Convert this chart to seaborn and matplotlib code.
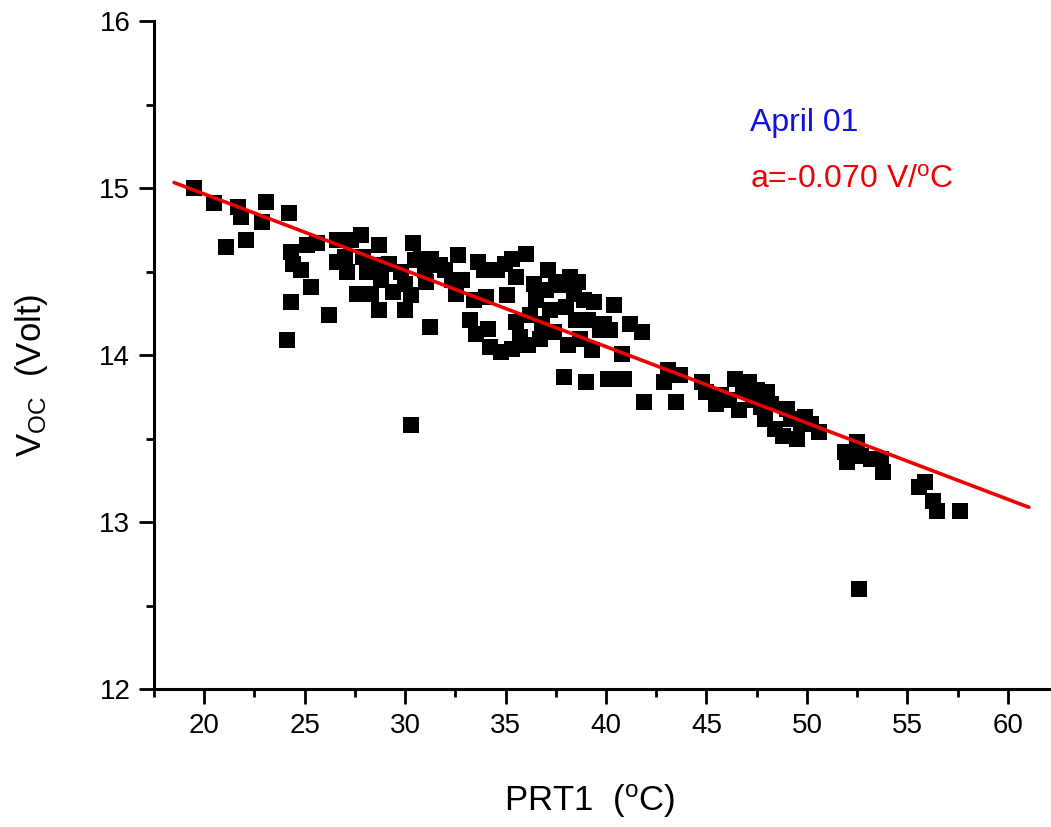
import matplotlib
matplotlib.use("Agg")
import matplotlib.pyplot as plt
from matplotlib.ticker import MultipleLocator
import seaborn as sns
import pandas as pd

# ---- data ----
prt1_c = [19.5, 20.5, 21.1, 21.7, 21.85, 22.1, 22.9, 23.1, 24.2, 24.3, 24.4, 24.3, 24.1,
          24.8, 25.1, 25.3, 25.6, 26.2, 26.6, 26.6, 27.0, 27.3, 27.1, 27.6, 27.8, 27.9,
          28.1, 28.3, 28.6, 28.7, 28.8, 28.7, 29.2, 29.4, 29.8, 30.0, 30.0, 30.3, 30.4,
          30.3, 30.5, 30.8, 31.0, 31.05, 31.25, 31.3, 31.75, 32.0, 32.35, 32.55, 32.65,
          32.85, 33.25, 33.45, 33.55, 33.65, 33.95, 34.05, 34.15, 34.25, 34.55, 34.75,
          34.95, 35.05, 35.3, 35.3, 35.5, 35.5, 35.7, 36.0, 36.1, 36.2, 36.4, 36.5, 36.7,
          36.8, 37.0, 37.1, 37.2, 37.4, 37.5, 37.8, 37.9, 38.0, 38.1, 38.2, 38.4, 38.5,
          38.6, 38.7, 38.9, 39.0, 39.1, 39.3, 39.4, 39.7, 39.9, 40.1, 40.2, 40.4, 40.6,
          40.8, 40.9, 41.2, 41.8, 41.9, 42.9, 43.1, 43.5, 43.7, 44.8, 45.0, 45.5, 45.7,
          46.1, 46.4, 46.6, 46.8, 47.1, 47.3, 47.5, 47.7, 47.9, 48.0, 48.2, 48.4, 48.8,
          49.0, 49.2, 49.5, 49.7, 49.9, 50.2, 50.6, 51.9, 52.0, 52.5, 52.6, 52.7, 53.2,
          53.7, 53.8, 55.6, 55.9, 56.3, 56.5, 57.6]
voc_volt = [15.00, 14.91, 14.65, 14.89, 14.83, 14.69, 14.80, 14.92, 14.85, 14.62, 14.55,
            14.32, 14.09, 14.51, 14.66, 14.41, 14.67, 14.24, 14.69, 14.56, 14.59, 14.69,
            14.50, 14.37, 14.72, 14.59, 14.50, 14.37, 14.54, 14.66, 14.45, 14.27, 14.55,
            14.38, 14.50, 14.27, 14.43, 14.36, 14.67, 13.58, 14.57, 14.58, 14.51, 14.44,
            14.17, 14.58, 14.54, 14.51, 14.45, 14.37, 14.60, 14.45, 14.21, 14.33, 14.13,
            14.56, 14.51, 14.35, 14.16, 14.05, 14.51, 14.02, 14.55, 14.36, 14.58, 14.04,
            14.47, 14.20, 14.11, 14.61, 14.06, 14.24, 14.43, 14.33, 14.10, 14.19, 14.39,
            14.51, 14.27, 14.14, 14.44, 14.42, 13.87, 14.29, 14.06, 14.47, 14.37, 14.21,
            14.44, 14.10, 14.33, 13.84, 14.21, 14.03, 14.32, 14.15, 14.19, 13.86, 14.15,
            14.30, 13.86, 14.01, 13.86, 14.19, 14.14, 13.72, 13.84, 13.91, 13.72, 13.88,
            13.84, 13.78, 13.71, 13.76, 13.73, 13.86, 13.67, 13.79, 13.84, 13.73, 13.79,
            13.69, 13.62, 13.78, 13.71, 13.56, 13.52, 13.68, 13.62, 13.50, 13.59, 13.63,
            13.59, 13.54, 13.42, 13.36, 13.48, 12.60, 13.40, 13.38, 13.38, 13.30, 13.21,
            13.24, 13.13, 13.07, 13.07]
fit_x = [18.5, 61.05]
fit_y = [15.035, 13.09]
x_ticks = [20, 25, 30, 35, 40, 45, 50, 55, 60]
y_ticks = [12, 13, 14, 15, 16]

df = pd.DataFrame({"PRT1": prt1_c, "Voc": voc_volt})
fit_df = pd.DataFrame({"PRT1": fit_x, "Voc": fit_y})

sns.set_style("ticks")
plt.rcParams["font.family"] = ["Liberation Sans", "DejaVu Sans"]
plt.rcParams["mathtext.fontset"] = "custom"
plt.rcParams["mathtext.rm"] = "Liberation Sans"
plt.rcParams["mathtext.it"] = "Liberation Sans:italic"
plt.rcParams["mathtext.bf"] = "Liberation Sans:bold"
plt.rcParams["text.color"] = "black"
plt.rcParams["axes.labelcolor"] = "black"
plt.rcParams["xtick.color"] = "black"
plt.rcParams["ytick.color"] = "black"
plt.rcParams["xtick.labelcolor"] = "black"
plt.rcParams["ytick.labelcolor"] = "black"

fig = plt.figure(figsize=(10.51, 8.27), dpi=100)
ax = fig.add_axes([0.1465, 0.1665, 0.8535, 0.8076])

sns.scatterplot(data=df, x="PRT1", y="Voc", marker="s", s=118, color="black",
                linewidth=0, ax=ax, zorder=2)
sns.lineplot(data=fit_df, x="PRT1", y="Voc", color="#f00000", linewidth=2.6,
             ax=ax, zorder=3)

ax.set_xlim(17.5, 62.15)
ax.set_ylim(12, 16)
ax.set_xticks(x_ticks)
ax.set_yticks(y_ticks)
ax.xaxis.set_minor_locator(MultipleLocator(2.5))
ax.yaxis.set_minor_locator(MultipleLocator(0.5))
ax.tick_params(which="major", length=11, width=2, labelsize=20, pad=6, color="black",
               labelcolor="black")
ax.tick_params(which="minor", length=6, width=2, color="black")

for side in ["top", "right"]:
    ax.spines[side].set_visible(False)
for side in ["left", "bottom"]:
    ax.spines[side].set_linewidth(2.2)
    ax.spines[side].set_color("black")

ax.set_xlabel("PRT1  ($^{\\mathrm{o}}$C)", fontsize=25, color="black")
ax.set_ylabel("V$_{\\mathrm{OC}}$  (Volt)", fontsize=25, va="center", color="black")
ax.xaxis.set_label_coords(0.486, -0.14)
ax.yaxis.set_label_coords(-0.136, 0.47)

ax.text(750, 123, "April 01", transform=None, fontsize=23, color="#1010e0",
        ha="left", va="center")
ax.text(750, 180, "a=-0.070 V/$^{\\mathrm{o}}$C", transform=None, fontsize=23,
        color="#f00000", ha="left", va="center")

# convert pixel positions (top-origin) for the texts
for t in ax.texts:
    x, y = t.get_position()
    t.set_transform(fig.transFigure)
    t.set_position((x / 1051, 1 - y / 827))

fig.savefig("out.png", dpi=100)
